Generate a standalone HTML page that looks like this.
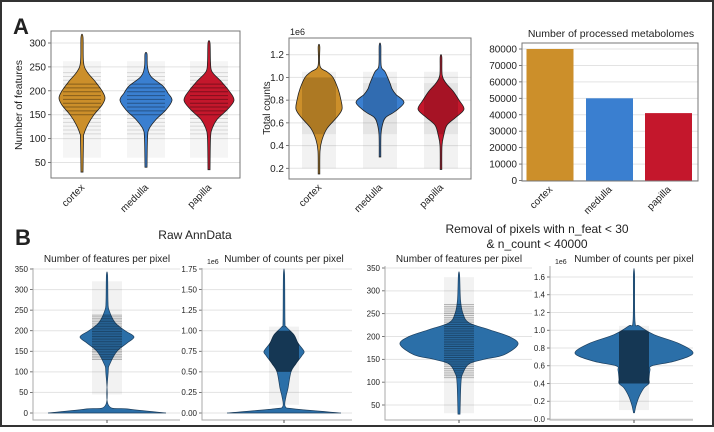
<!DOCTYPE html>
<html><head><meta charset="utf-8">
<style>
html,body{margin:0;padding:0;background:#fff;}
body{width:714px;height:427px;overflow:hidden;}
svg text{font-family:"Liberation Sans",sans-serif;fill:#222;}
</style></head>
<body>
<svg id="fig" width="714" height="427" viewBox="0 0 714 427" xmlns="http://www.w3.org/2000/svg">
<defs id="defs"></defs>
<rect x="1" y="1" width="712" height="425" fill="#fff" stroke="#333" stroke-width="2"/>
<text x="13" y="34" font-size="22" font-weight="bold">A</text>
<text x="15" y="245" font-size="22" font-weight="bold">B</text>
<text x="195" y="239" font-size="12" text-anchor="middle">Raw AnnData</text>
<text x="537" y="233" font-size="12" text-anchor="middle">Removal of pixels with n_feat &lt; 30</text>
<text x="537" y="248" font-size="12" text-anchor="middle">&amp; n_count &lt; 40000</text>
</svg>
<script>
// ---------- data ----------
const regions = ["cortex","medulla","papilla"];
const regionColors = ["#cc8f2a","#3a7fd0","#c4172c"];
const metabolomeCounts = [80000, 50000, 41000];
const barTicks = [0,10000,20000,30000,40000,50000,60000,70000,80000];

const featTicksA = [50,100,150,200,250,300];
const featProfileY = [[30,100,110,130,150,170,185,200,220,240,260,312],
                      [40,100,120,140,160,180,195,210,230,250,277],
                      [35,100,120,140,160,180,200,220,240,260,300]];
const featProfileW = [[1,1.5,2,6,12,20,23,20,13,5,1.5,1],
                      [1,1.5,3,10,20,26,22,17,5,1.5,1],
                      [1,1.5,3,8,18,25,20,12,3,1.5,1]];

const countTicksA = [0.2,0.4,0.6,0.8,1.0,1.2];
const countProfileY = [[0.15,0.35,0.45,0.55,0.65,0.72,0.8,0.9,1.0,1.05,1.1,1.27],
                       [0.3,0.5,0.6,0.65,0.7,0.78,0.85,0.9,0.95,1.05,1.1,1.28],
                       [0.19,0.4,0.5,0.58,0.65,0.72,0.8,0.88,0.95,1.02,1.18]];
const countProfileW = [[0.8,1,3,8,18,23,22,19,14,8,1,0.8],
                       [0.8,1,3,6,15,24,16,12,10,5,1.2,0.8],
                       [0.8,1,3,6,15,23,18,12,5,1.2,0.8]];

const rawFeatTicks = [0,50,100,150,200,250,300,350];
const rawFeatY = [0,10,20,100,120,150,170,185,200,220,250,270,335];
const rawFeatW = [59,20,1.2,1.2,3,10,20,27,18,8,2,1,0.6];
const rawCountTicks = [0,0.25,0.5,0.75,1.0,1.25,1.5,1.75];
const rawCountY = [0,0.05,0.08,0.2,0.3,0.5,0.6,0.7,0.75,0.85,0.95,1.05,1.1,1.68];
const rawCountW = [57,10,1.2,2,4,7,12,18,20,14,10,2,1,0.6];

const filtFeatTicks = [50,100,150,200,250,300,350];
const filtFeatY = [30,100,120,140,150,160,183,200,215,230,250,280,335];
const filtFeatW = [1,2,4,10,25,45,59,50,30,10,4,1.5,0.6];
const filtCountTicks = [0,0.2,0.4,0.6,0.8,1.0,1.2,1.4,1.6];
const filtCountY = [0.07,0.15,0.25,0.35,0.4,0.45,0.55,0.6,0.65,0.74,0.85,0.95,1.05,1.1,1.63];
const filtCountW = [0.5,2,5,10,15,15,16,18,40,59,45,20,5,1,0.6];

// ---------- helpers ----------
const svg = document.getElementById('fig');
const defs = document.getElementById('defs');
const NS = 'http://www.w3.org/2000/svg';
let clipN = 0;
function mk(tag, attrs, parent){
  const e = document.createElementNS(NS, tag);
  for (const k in attrs) e.setAttribute(k, attrs[k]);
  (parent||svg).appendChild(e);
  return e;
}
function linScale(d0,d1,r0,r1){ return v => r0 + (v-d0)/(d1-d0)*(r1-r0); }
function fmt(v,dec){ return dec==null ? String(v) : v.toFixed(dec); }

function axesFrame(p){
  for (const t of p.ticks){
    const y = p.ys(t);
    const g = mk('line',{x1:p.x0,x2:p.x1,y1:y,y2:y,stroke:'#e3e3e3','stroke-width':1});
    
    
    const tk = mk('line',{x1:p.x0-3,x2:p.x0,y1:y,y2:y,stroke:'#555','stroke-width':0.8});
    
    
    const tx = mk('text',{x:p.x0-5,y:y+p.fs*0.35,'font-size':p.fs,'text-anchor':'end'});
    tx.textContent = fmt(t,p.dec);
    
    
  }
}
function spines(p){
  if (p.box){
    const r = mk('rect',{x:p.x0,y:p.y0,width:p.x1-p.x0,height:p.y1-p.y0,fill:'none',stroke:'#777','stroke-width':1});
    
    
  } else {
    const l = mk('path',{d:`M${p.x0},${p.y0}V${p.y1}H${p.x1}`,fill:'none',stroke:'#aaa','stroke-width':1});
    
    
  }
}
function violinPath(cx, ys, vals, widths, scaleW){
  const right = vals.map((v,i)=>[cx + widths[i]*scaleW, ys(v)]);
  const left = vals.map((v,i)=>[cx - widths[i]*scaleW, ys(v)]).reverse();
  return smooth(right.concat(left));
}
function smooth(pts){
  let d = `M${pts[0][0]},${pts[0][1]}`;
  for (let i=0;i<pts.length-1;i++){
    const p0=pts[Math.max(0,i-1)], p1=pts[i], p2=pts[i+1], p3=pts[Math.min(pts.length-1,i+2)];
    const c1=[p1[0]+(p2[0]-p0[0])/6, p1[1]+(p2[1]-p0[1])/6];
    const c2=[p2[0]-(p3[0]-p1[0])/6, p2[1]-(p3[1]-p1[1])/6];
    d += `C${c1[0]},${c1[1]} ${c2[0]},${c2[1]} ${p2[0]},${p2[1]}`;
  }
  return d+'Z';
}
function makeClip(d){
  const id = 'vc'+(clipN++);
  const c = mk('clipPath',{id:id},defs);
  mk('path',{d:d},c);
  return `url(#${id})`;
}
function band(cx, hw, ys, lo, hi, opacity, name, clip){
  const a = {x:cx-hw,y:ys(hi),width:2*hw,height:ys(lo)-ys(hi),fill:'#000',opacity:opacity};
  if (clip) a['clip-path'] = clip;
  const r = mk('rect',a);
  
  
}
function stripes(cx, hw, ys, lo, hi, step, opacity, name, clip){
  const a = {stroke:'#000','stroke-width':1,opacity:opacity};
  if (clip) a['clip-path'] = clip;
  const g = mk('g',a);
  
  
  for (let v=lo; v<=hi; v+=step){
    const y = ys(v);
    mk('line',{x1:cx-hw,x2:cx+hw,y1:y,y2:y},g);
  }
}
function rotLabel(x,y,txt,name){
  const t = mk('text',{x:x,y:y,'font-size':10,'text-anchor':'end',transform:`rotate(-45 ${x} ${y})`});
  t.textContent = txt;
  
  
}
function txt(x,y,s,fs,anchor,name){
  const t = mk('text',{x:x,y:y,'font-size':fs,'text-anchor':anchor||'start'});
  t.textContent = s;
  
  
}

// ---------- A1: number of features ----------
{
  const p = {x0:51,x1:240,y0:31,y1:178,ys:linScale(50,300,162.5,43),ticks:featTicksA,box:true,fs:10,name:'features-by-region'};
  axesFrame(p);
  const xs = [82,146,209];
  regions.forEach((r,i)=>{
    band(xs[i],19,p.ys,60,262,0.04,'feature-scatter-'+r);
    stripes(xs[i],19,p.ys,110,240,8,0.12,'feature-scatter-rows-'+r);
    const d = violinPath(xs[i],p.ys,featProfileY[i],featProfileW[i],1);
    const v = mk('path',{d:d,fill:regionColors[i],stroke:'#222','stroke-width':0.8});
    
    
    stripes(xs[i],19,p.ys,150,215,8,0.35,'feature-stripes-'+r,makeClip(d));
    rotLabel(xs[i]+3,188,r,'x-label-'+r);
  });
  spines(p);
  const yt = mk('text',{x:0,y:0,'font-size':10.5,'text-anchor':'middle',transform:'translate(22 105) rotate(-90)'});
  yt.textContent='Number of features';
  
  
}

// ---------- A2: total counts ----------
{
  const p = {x0:289,x1:471,y0:38,y1:179,ys:linScale(0.2,1.2,168.3,54.7),ticks:countTicksA,dec:1,box:true,fs:10,name:'counts-by-region'};
  axesFrame(p);
  const xs = [319,380,441];
  regions.forEach((r,i)=>{
    band(xs[i],17,p.ys,0.2,1.05,0.05,'count-scatter-'+r);
    band(xs[i],17,p.ys,0.5,0.95,0.05,'count-scatter-mid-'+r);
    const d = violinPath(xs[i],p.ys,countProfileY[i],countProfileW[i],1);
    const v = mk('path',{d:d,fill:regionColors[i],stroke:'#222','stroke-width':0.8});
    
    
    band(xs[i],17,p.ys,0.5,1.0,0.15,'count-scatter-dense-'+r,makeClip(d));
    rotLabel(xs[i]+3,188,r,'x-label-counts-'+r);
  });
  spines(p);
  txt(290,35,'1e6',9,'start','counts-offset-label');
  const yt = mk('text',{x:0,y:0,'font-size':10,'text-anchor':'middle',transform:'translate(270 108) rotate(-90)'});
  yt.textContent='Total counts';
  
  
}

// ---------- A3: bar chart ----------
{
  const p = {x0:522,x1:698,y0:43,y1:181,ys:linScale(0,80000,180.5,49),ticks:barTicks,box:true,fs:10,name:'metabolome-bars'};
  axesFrame(p);
  const xs = [550,609.5,668.5];
  const bw = 47;
  regions.forEach((r,i)=>{
    const b = mk('rect',{x:xs[i]-bw/2,y:p.ys(metabolomeCounts[i]),width:bw,height:p.ys(0)-p.ys(metabolomeCounts[i]),fill:regionColors[i]});
    
    
    rotLabel(xs[i]+3,190,r,'bar-x-label-'+r);
  });
  spines(p);
  txt(611,37,'Number of processed metabolomes',10.5,'middle','bar-chart-title');
}

// ---------- B panels ----------
function bPanel(cfg){
  const p = {x0:cfg.x0,x1:cfg.x1,y0:cfg.y0,y1:cfg.y1,ys:cfg.ys,ticks:cfg.ticks,dec:cfg.dec,box:false,fs:8,name:cfg.name};
  axesFrame(p);
  band(cfg.cx,15,p.ys,cfg.bandLo,cfg.bandHi,0.05,cfg.name+'-scatter');
  if (cfg.stripes) stripes(cfg.cx,15,p.ys,cfg.stripes[0],cfg.stripes[1],cfg.stripes[2],0.25,cfg.name+'-scatter-rows');
  const d = violinPath(cfg.cx,p.ys,cfg.vy,cfg.vw,1);
  const v = mk('path',{d:d,fill:'#2b6fa8',stroke:'#1d3f5e','stroke-width':0.7});
  
  
  const clip = makeClip(d);
  if (cfg.stripes) stripes(cfg.cx,15,p.ys,cfg.stripes[0],cfg.stripes[1],cfg.stripes[2],0.35,cfg.name+'-stripes',clip);
  if (cfg.dense) band(cfg.cx,15,p.ys,cfg.dense[0],cfg.dense[1],0.5,cfg.name+'-scatter-dense',clip);
  spines(p);
  const tk = mk('line',{x1:cfg.cx,x2:cfg.cx,y1:cfg.y1,y2:cfg.y1+3,stroke:'#555'});
  
  
  txt(cfg.cx,262,cfg.title,10,'middle',cfg.name+'-title');
  if (cfg.offset) txt(cfg.x0+5,264,'1e6',7,'start',cfg.name+'-offset-label');
}
bPanel({name:'raw-features',x0:33,x1:180,y0:268,y1:420,ys:linScale(0,350,413,269),ticks:rawFeatTicks,cx:107,
  vy:rawFeatY,vw:rawFeatW,bandLo:45,bandHi:320,stripes:[130,240,4],title:'Number of features per pixel'});
bPanel({name:'raw-counts',x0:202,x1:352,y0:268,y1:420,ys:linScale(0,1.75,413,269),ticks:rawCountTicks,dec:2,cx:284,
  vy:rawCountY,vw:rawCountW,bandLo:0.1,bandHi:1.05,dense:[0.5,1.0],title:'Number of counts per pixel',offset:true});
bPanel({name:'filtered-features',x0:385,x1:532,y0:266,y1:420,ys:linScale(50,350,405,268),ticks:filtFeatTicks,cx:459,
  vy:filtFeatY,vw:filtFeatW,bandLo:32,bandHi:330,stripes:[110,270,4],title:'Number of features per pixel'});
bPanel({name:'filtered-counts',x0:550,x1:693,y0:266,y1:420,ys:linScale(0,1.6,419,277),ticks:filtCountTicks,dec:1,cx:634,
  vy:filtCountY,vw:filtCountW,bandLo:0.1,bandHi:1.05,dense:[0.4,1.0],title:'Number of counts per pixel',offset:true});
</script>
</body></html>
